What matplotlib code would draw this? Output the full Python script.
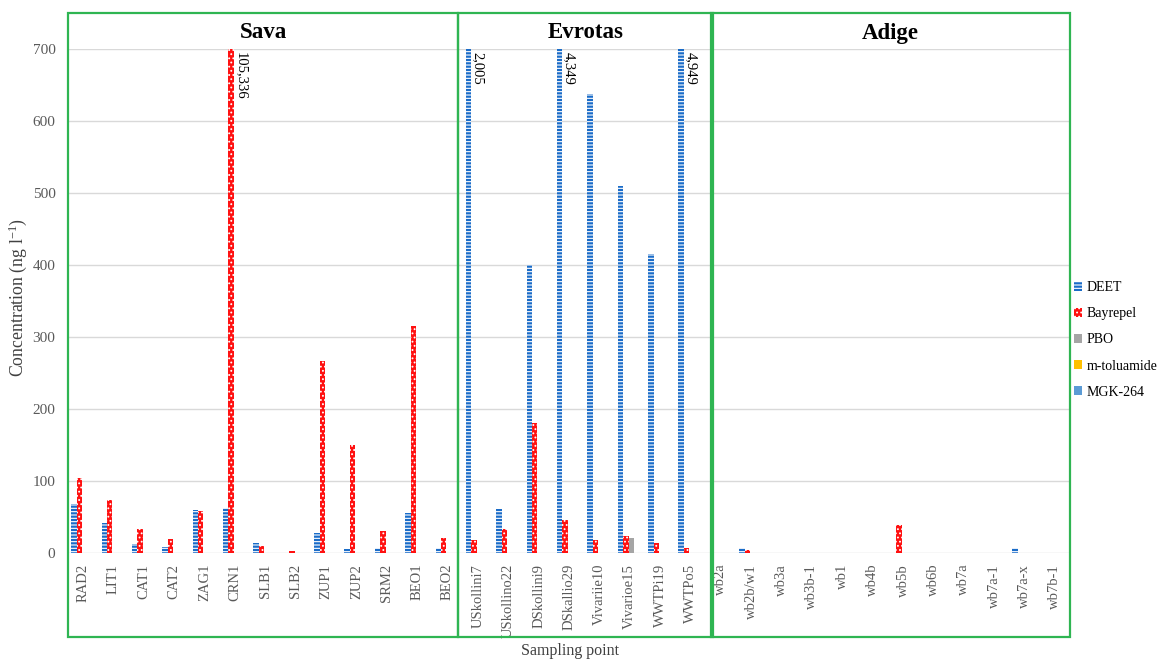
"""
Insect repellent concentrations at the sampling points of the Sava,
Evrotas and Adige river basins (grouped bars, clipped at 700 ng/l).
"""

# ---------- Imports ---------- #
import numpy as np
import matplotlib
matplotlib.use("Agg")
import matplotlib.pyplot as plt
from matplotlib.patches import Rectangle

# ---------- Data ---------- #
sava_sites = ["RAD2", "LIT1", "CAT1", "CAT2", "ZAG1", "CRN1", "SLB1", "SLB2",
              "ZUP1", "ZUP2", "SRM2", "BEO1", "BEO2"]
evrotas_sites = ["USkollini7", "USkollino22", "DSkollini9", "DSkallio29",
                 "Vivariie10", "Vivarioe15", "WWTPi19", "WWTPo5"]
adige_sites = ["wb2a", "wb2b/w1", "wb3a", "wb3b-1", "wb1", "wb4b", "wb5b",
               "wb6b", "wb7a", "wb7a-1", "wb7a-x", "wb7b-1"]
basins = ["Sava", "Evrotas", "Adige"]

deet = [68, 41, 12, 8, 59, 62, 13, 0, 27, 5, 7, 55, 7,
        2005, 61, 400, 4349, 637, 510, 415, 4949,
        0, 6, 0, 0, 0, 0, 0, 0, 0, 0, 6, 0]
bayrepel = [104, 73, 33, 19, 58, 105336, 10, 3, 266, 149, 30, 315, 21,
            18, 33, 180, 45, 17, 23, 14, 7,
            0, 4, 0, 0, 0, 0, 38, 0, 0, 0, 0, 0]
pbo = [0] * 13 + [0, 0, 0, 0, 0, 21, 0, 0] + [0] * 12
m_toluamide = [0] * 33
mgk264 = [0] * 33

series_names = ["DEET", "Bayrepel", "PBO", "m-toluamide", "MGK-264"]

# ---------- Plot ---------- #
plt.rcParams['font.family'] = ['Liberation Serif', 'DejaVu Serif']
plt.rcParams['mathtext.fontset'] = 'custom'
plt.rcParams['mathtext.rm'] = 'Liberation Serif'
plt.rcParams['mathtext.it'] = 'Liberation Serif:italic'
plt.rcParams['hatch.linewidth'] = 0.8

sites = sava_sites + evrotas_sites + adige_sites
x = np.arange(len(sites))
YMAX = 700

fig = plt.figure(figsize=(11.63, 6.61), dpi=100)
ax = fig.add_axes([68 / 1163, 1 - 552.7 / 661, (1070 - 68) / 1163, 504 / 661])

w = 0.178
styles = [
    dict(color="#1a6cc8", hatch="-----", edgecolor="white"),
    dict(color="#ff1111", hatch="....", edgecolor="white"),
    dict(color="#a5a5a5", edgecolor="#a5a5a5"),
    dict(color="#ffc000", edgecolor="#ffc000"),
    dict(color="#5b9bd5", edgecolor="#5b9bd5"),
]
all_series = [deet, bayrepel, pbo, m_toluamide, mgk264]

for k, (vals, name, st) in enumerate(zip(all_series, series_names, styles)):
    offs = (k - 2) * w + 0.05
    ax.bar(x + offs, vals, width=w, label=name, linewidth=0,
           facecolor=st["color"], edgecolor=st["edgecolor"],
           hatch=st.get("hatch"))
    # values beyond the axis get written next to the clipped bar
    for xi, v in zip(x, vals):
        if v > YMAX:
            ax.text(xi + offs + w * 0.55, YMAX - 4, f"{v:,}", rotation=270,
                    ha="left", va="top", fontsize=10.5, color="black")

ax.set_xlim(-0.5, len(sites) - 0.5)
ax.set_ylim(0, YMAX)
ax.set_yticks(np.arange(0, 701, 100))
ax.grid(axis="y", color="#d9d9d9", linewidth=1)
ax.set_axisbelow(True)
for s in ax.spines.values():
    s.set_visible(False)
ax.tick_params(length=0)
ax.tick_params(axis="y", labelsize=11, labelcolor="#595959", pad=9)
ax.set_xticks(x)
ax.set_xticklabels(sites, rotation=90, fontsize=10.5, color="#595959")
ax.tick_params(axis="x", pad=8)

ax.set_ylabel("Concentration (ng l$^{-1}$)", fontsize=12.8, color="#404040")
ax.yaxis.set_label_coords(-39 / 1002, (552.7 - 298) / 504)
fig.text(570 / 1163, 1 - 651 / 661, "Sampling point", ha="center", va="center",
         fontsize=11.5, color="#404040")

# basin boxes, in pixel positions of the figure
box_edges = [(68, 458), (458, 713), (711, 1070)]
for name, (x0, x1) in zip(basins, box_edges):
    fig.add_artist(Rectangle((x0 / 1163, 1 - 637 / 661), (x1 - x0) / 1163,
                             (637 - 13) / 661, transform=fig.transFigure,
                             fill=False, edgecolor="#2fb552", linewidth=1.6))
    fig.text((x0 + x1) / 2 / 1163, 1 - 33 / 661, name, ha="center",
             va="center", fontsize=16.5, fontweight="bold", color="black")

ax.legend(loc="upper left", bbox_to_anchor=(1074 / 1163, 1 - 281 / 661),
          bbox_transform=fig.transFigure, frameon=False, fontsize=10,
          handlelength=0.6, handleheight=0.6, handletextpad=0.3,
          labelspacing=0.95, borderaxespad=0, borderpad=0)

fig.savefig("out.png", dpi=100)
